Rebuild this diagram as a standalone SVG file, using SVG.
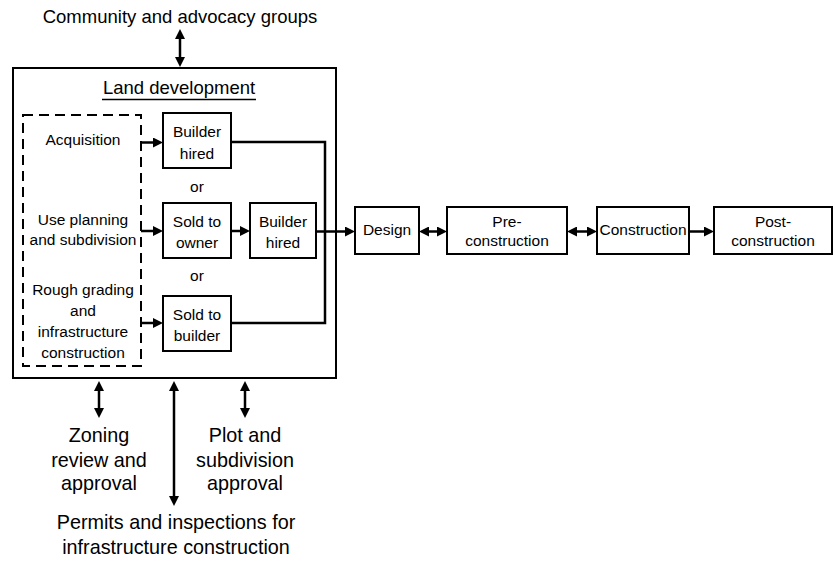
<svg xmlns="http://www.w3.org/2000/svg" width="835" height="561" viewBox="0 0 835 561">
<defs>
<style>
text{font-family:"Liberation Sans",Arial,Helvetica,sans-serif;fill:#000;text-anchor:middle}
.s{font-size:15.5px}
.m{font-size:18.5px}
.l{font-size:19.8px}
.box{fill:#fff;stroke:#000;stroke-width:2}
.dash{fill:none;stroke:#000;stroke-width:2;stroke-dasharray:10 6}
.ln{fill:none;stroke:#000;stroke-width:2.5}
.ar{fill:none;stroke:#000;stroke-width:2.5;marker-end:url(#ah)}
.dar{fill:none;stroke:#000;stroke-width:2.5;marker-start:url(#ah);marker-end:url(#ah)}
</style>
<marker id="ah" viewBox="0 0 10 10" refX="5" refY="5" markerWidth="10" markerHeight="10" markerUnits="userSpaceOnUse" orient="auto-start-reverse">
<path d="M0,0 L10,5 L0,10 z" fill="#000"/>
</marker>
</defs>
<rect width="835" height="561" fill="#fff"/>

<g id="community"><text class="m" x="180" y="23">Community and advocacy groups</text></g>

<g id="land-development">
<rect class="box" x="13" y="68" width="323" height="310"/>
<text class="m" x="179" y="94">Land development</text>
<line x1="102" y1="99.5" x2="256" y2="99.5" stroke="#000" stroke-width="1.5"/>
</g>

<g id="phases">
<rect class="dash" x="23" y="115" width="118" height="251"/>
<text class="s" x="83" y="145">Acquisition</text>
<text class="s" x="83" y="225">Use planning</text>
<text class="s" x="83" y="245">and subdivision</text>
<text class="s" x="83" y="295">Rough grading</text>
<text class="s" x="83" y="316">and</text>
<text class="s" x="83" y="337">infrastructure</text>
<text class="s" x="83" y="358">construction</text>
</g>

<g id="builder-hired-1">
<rect class="box" x="163" y="113" width="68" height="55"/>
<text class="s" x="197" y="137">Builder</text>
<text class="s" x="197" y="158.5">hired</text>
</g>
<g id="or-1"><text class="s" x="197" y="192">or</text></g>
<g id="sold-to-owner">
<rect class="box" x="163" y="203" width="68" height="55"/>
<text class="s" x="197" y="226.5">Sold to</text>
<text class="s" x="197" y="248">owner</text>
</g>
<g id="builder-hired-2">
<rect class="box" x="250" y="203" width="66" height="55"/>
<text class="s" x="283" y="226.5">Builder</text>
<text class="s" x="283" y="248">hired</text>
</g>
<g id="or-2"><text class="s" x="197" y="281">or</text></g>
<g id="sold-to-builder">
<rect class="box" x="163" y="296" width="68" height="55"/>
<text class="s" x="197" y="319.5">Sold to</text>
<text class="s" x="197" y="341">builder</text>
</g>

<g id="design">
<rect class="box" x="355" y="207" width="64" height="47"/>
<text class="s" x="387" y="235">Design</text>
</g>
<g id="pre-construction">
<rect class="box" x="447" y="207" width="120" height="47"/>
<text class="s" x="507" y="226.5">Pre-</text>
<text class="s" x="507" y="245.5">construction</text>
</g>
<g id="construction">
<rect class="box" x="597" y="207" width="92" height="47"/>
<text class="s" x="643" y="235">Construction</text>
</g>
<g id="post-construction">
<rect class="box" x="714" y="207" width="118" height="47"/>
<text class="s" x="773" y="226.5">Post-</text>
<text class="s" x="773" y="245.5">construction</text>
</g>

<g id="zoning"><text class="l" x="99" y="442">Zoning</text><text class="l" x="99" y="467">review and</text><text class="l" x="99" y="490">approval</text></g>
<g id="plot"><text class="l" x="245" y="442">Plot and</text><text class="l" x="245" y="467">subdivision</text><text class="l" x="245" y="490">approval</text></g>
<g id="permits"><text class="l" x="176" y="529">Permits and inspections for</text><text class="l" x="176" y="554">infrastructure construction</text></g>

<g id="connectors">
<line class="dar" x1="180" y1="34" x2="180" y2="62"/>
<line class="ar" x1="141" y1="142.5" x2="158" y2="142.5"/>
<line class="ar" x1="141" y1="231" x2="158" y2="231"/>
<line class="ar" x1="231" y1="231" x2="245" y2="231"/>
<line class="ar" x1="141" y1="323" x2="158" y2="323"/>
<polyline class="ln" points="231,142 325,142 325,323 231,323"/>
<line class="ar" x1="316" y1="231.5" x2="350" y2="231.5"/>
<line class="dar" x1="424" y1="231.5" x2="442" y2="231.5"/>
<line class="dar" x1="572" y1="231.5" x2="592" y2="231.5"/>
<line class="ar" x1="689" y1="231.5" x2="709" y2="231.5"/>
<line class="dar" x1="99" y1="386" x2="99" y2="413"/>
<line class="dar" x1="174" y1="386" x2="174" y2="501"/>
<line class="dar" x1="245" y1="386" x2="245" y2="413"/>
</g>
</svg>
